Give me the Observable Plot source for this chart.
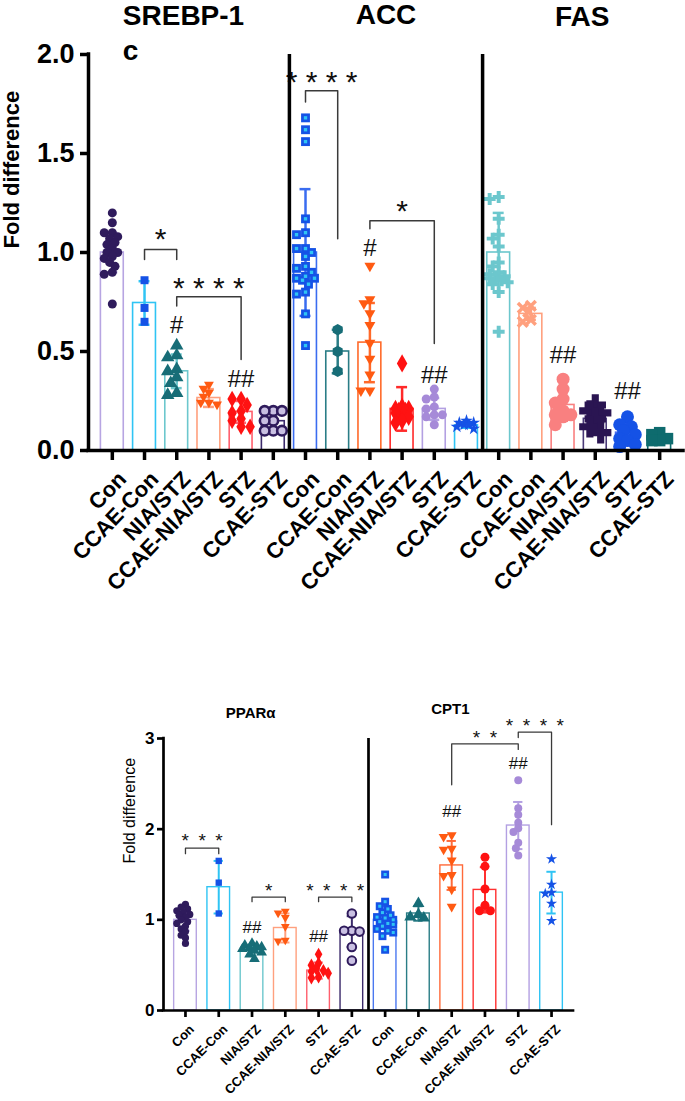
<!DOCTYPE html>
<html>
<head>
<meta charset="utf-8">
<script src="https://cdn.jsdelivr.net/npm/d3@7"></script>
<script src="https://cdn.jsdelivr.net/npm/@observablehq/plot@0.6"></script>
<style>
html,body{margin:0;padding:0;background:#fff;overflow:hidden;}
#top svg,#bot svg{display:block;max-width:none;}
#gap{height:90px;}
</style>
</head>
<body>
<div id="top"></div><div id="gap"></div><div id="bot"></div>
<script>
// ---------------- categories ----------------
const groups = ["Con","CCAE-Con","NIA/STZ","CCAE-NIA/STZ","STZ","CCAE-STZ"];
const topGenes = ["SREBP-1c","ACC","FAS"];
const topTitles = ["SREBP-1\nc","ACC","FAS"];
const botGenes = ["PPARα","CPT1"];
const botTitles = ["PPARα","CPT1"];
const topYTicks = [0, 0.5, 1, 1.5, 2];
const botYTicks = [0, 1, 2, 3];

// ---------------- values ----------------
const srebpMean = [1.00, 0.745, 0.40, 0.265, 0.195, 0.148];
const srebpSD   = [0.10, 0.11, 0.085, 0.045, 0.055, 0.045];
const srebpPts  = [
  [1.20,1.15,1.10,1.10,1.08,1.07,1.05,1.04,1.02,1.00,1.00,0.98,0.97,0.95,0.93,0.90,0.89,0.74],
  [0.86,0.72,0.65],
  [0.53,0.48,0.47,0.41,0.40,0.37,0.34,0.29,0.28],
  [0.33,0.31,0.29,0.27,0.24,0.24,0.23],
  [0.26,0.26,0.23,0.20,0.19,0.16,0.15,0.12,0.12],
  [0.20,0.20,0.20,0.15,0.15,0.10,0.10,0.10]
];
const accMean = [1.00, 0.50, 0.545, 0.21, 0.21, 0.127];
const accSD   = [0.32, 0.11, 0.20, 0.11, 0.055, 0.012];
const accPts  = [
  [1.68,1.62,1.56,1.17,1.10,1.09,1.02,1.02,1.00,0.98,0.93,0.92,0.90,0.88,0.87,0.87,0.86,0.84,0.80,0.79,0.69,0.53],
  [0.61,0.50,0.40],
  [0.93,0.76,0.74,0.69,0.63,0.54,0.46,0.38,0.30,0.30],
  [0.44,0.22,0.21,0.21,0.20,0.20,0.20,0.19,0.17,0.15,0.14],
  [0.31,0.27,0.26,0.22,0.21,0.18,0.18,0.17,0.13],
  [0.15,0.14,0.14,0.13,0.13,0.12,0.11]
];
const fasMean = [1.00, 0.69, 0.23, 0.16, 0.09, 0.07];
const fasSD   = [0.20, 0.03, 0.08, 0.05, 0.05, 0.02];
const fasPts  = [
  [1.28,1.27,1.17,1.09,1.07,1.03,0.95,0.93,0.90,0.89,0.88,0.87,0.87,0.86,0.85,0.84,0.80,0.60],
  [0.73,0.72,0.70,0.66,0.65],
  [0.36,0.31,0.26,0.24,0.20,0.18,0.18,0.17,0.13],
  [0.23,0.20,0.19,0.16,0.12,0.09],
  [0.17,0.13,0.12,0.10,0.08,0.06,0.05,0.03,0.02],
  [0.09,0.08,0.06,0.05,0.05]
];
const pparMean = [1.00, 1.36, 0.66, 0.91, 0.44, 0.87];
const pparSD   = [0.12, 0.29, 0.05, 0.16, 0.09, 0.17];
const pparPts  = [
  [1.17,1.14,1.12,1.10,1.08,1.06,1.05,1.03,1.00,0.98,0.96,0.93,0.90,0.87,0.83,0.80,0.74],
  [1.65,1.41,1.07],
  [0.74,0.72,0.71,0.70,0.69,0.68,0.66,0.64,0.62,0.57],
  [1.09,1.07,1.02,0.92,0.77,0.76],
  [0.62,0.52,0.50,0.46,0.44,0.43,0.41,0.37,0.36],
  [1.07,0.88,0.88,0.87,0.70,0.55]
];
const cptMean = [1.00, 1.07, 1.60, 1.33, 2.04, 1.30];
const cptSD   = [0.15, 0.08, 0.27, 0.25, 0.26, 0.23];
const cptPts  = [
  [1.50,1.20,1.15,1.12,1.08,1.05,1.03,1.02,1.00,0.98,0.96,0.95,0.93,0.90,0.88,0.86,0.82,0.67],
  [1.18,1.06,1.03,1.02],
  [1.93,1.91,1.78,1.77,1.65,1.49,1.48,1.33,1.14],
  [1.69,1.59,1.34,1.16,1.10,1.10],
  [2.54,2.23,2.16,2.07,2.01,1.97,1.85,1.79,1.71],
  [1.67,1.39,1.30,1.29,1.18,0.99]
];

// significance annotations
const topBrackets = [
  {gene:"SREBP-1c", from:"CCAE-Con", to:"NIA/STZ", y:1.015, dropFrom:0.965, dropTo:0.965, label:"*", ly:1.11},
  {gene:"SREBP-1c", from:"NIA/STZ", to:"STZ", y:0.777, dropFrom:0.73, dropTo:0.46, label:"****", ly:0.86},
  {gene:"ACC", from:"Con", to:"CCAE-Con", y:1.817, dropFrom:1.76, dropTo:1.07, label:"****", ly:1.9},
  {gene:"ACC", from:"NIA/STZ", to:"STZ", y:1.16, dropFrom:1.12, dropTo:0.54, label:"*", ly:1.25}
];
const topHashes = [
  {gene:"SREBP-1c", group:"NIA/STZ", y:0.63, label:"#"},
  {gene:"SREBP-1c", group:"STZ", y:0.36, label:"##"},
  {gene:"ACC", group:"NIA/STZ", y:1.02, label:"#"},
  {gene:"ACC", group:"STZ", y:0.38, label:"##"},
  {gene:"FAS", group:"NIA/STZ", y:0.48, label:"##"},
  {gene:"FAS", group:"STZ", y:0.30, label:"##"}
];
const botBrackets = [
  {gene:"PPARα", from:"Con", to:"CCAE-Con", y:1.79, dropFrom:1.73, dropTo:1.73, label:"***", ly:1.93},
  {gene:"PPARα", from:"NIA/STZ", to:"CCAE-NIA/STZ", y:1.25, dropFrom:1.2, dropTo:1.2, label:"*", ly:1.38},
  {gene:"PPARα", from:"STZ", to:"CCAE-STZ", y:1.25, dropFrom:1.2, dropTo:1.2, label:"****", ly:1.38},
  {gene:"CPT1", from:"NIA/STZ", to:"STZ", y:2.94, dropFrom:2.49, dropTo:2.88, label:"**", ly:3.06},
  {gene:"CPT1", from:"STZ", to:"CCAE-STZ", y:3.07, dropFrom:3.01, dropTo:2.05, label:"****", ly:3.2}
];
const botHashes = [
  {gene:"PPARα", group:"NIA/STZ", y:0.92, label:"##"},
  {gene:"PPARα", group:"STZ", y:0.82, label:"##"},
  {gene:"CPT1", group:"NIA/STZ", y:2.19, label:"##"},
  {gene:"CPT1", group:"STZ", y:2.72, label:"##"}
];

// ---------------- styles ----------------
const C = {
  darkPurple:"#2f1b5c", lavender:"#b7a5e2", blue:"#1552e6", cyan:"#2fc4f4",
  teal:"#176d77", lightTeal:"#6cc7cd", orange:"#ff5a12", salmon:"#ffa07e",
  red:"#ff1212", pinkRed:"#ff5f6d", midPurple:"#a68ad8", coral:"#f98080", darkTeal:"#0e6b6e"
};
const triDown = { draw(ctx, size) { const s = Math.sqrt(size); const w = s*0.62, t = s*0.42, b = s*0.66;
  ctx.moveTo(-w,-t); ctx.lineTo(w,-t); ctx.lineTo(0,b); ctx.closePath(); } };

const srebpBar = [C.lavender, C.cyan, C.lightTeal, C.salmon, C.pinkRed, "#3b2a6b"];
const accBar   = ["#3a6cf0", "#2a7d86", "#ff6a2a", "#ff2a2a", "#b3a0e2", C.cyan];
const fasBar   = [C.lightTeal, C.salmon, C.coral, "#4a3a78", "#4a6ef0", C.darkTeal];
const cptBar   = ["#4a78f0", "#2a7d86", "#ff6a3a", "#ff3030", "#b3a0e2", C.cyan];

const srebpDot = [
  {symbol:"circle", r:4.5, fill:C.darkPurple},
  {symbol:"square", r:4.5, fill:C.blue},
  {symbol:"triangle", r:5, fill:C.teal},
  {symbol:triDown, r:4.5, fill:C.orange},
  {symbol:"diamond", r:5, fill:C.red},
  {symbol:"circle", r:4.8, fill:"#c9c0e2", stroke:C.darkPurple, sw:2.6}
];
const accDot = [
  {symbol:"square", r:5, fill:C.blue, inner:C.cyan},
  {symbol:"hexagon", r:5, fill:C.teal},
  {symbol:triDown, r:5, fill:C.orange},
  {symbol:"diamond", r:5.5, fill:C.red},
  {symbol:"circle", r:4.5, fill:C.midPurple},
  {symbol:"star", r:4, fill:C.blue}
];
const fasDot = [
  {symbol:"cross", r:5, fill:C.lightTeal},
  {symbol:"times", r:4.5, fill:"none", stroke:C.salmon, sw:3.5},
  {symbol:"circle", r:6.5, fill:C.coral},
  {symbol:"cross", r:9, fill:"#2a1552"},
  {symbol:"circle", r:6.5, fill:C.blue},
  {symbol:"square", r:6.5, fill:C.darkTeal}
];
const pparDot = [
  {symbol:"circle", r:3.6, fill:C.darkPurple},
  {symbol:"square", r:3.6, fill:C.blue},
  {symbol:"triangle", r:4, fill:C.teal},
  {symbol:triDown, r:4, fill:C.orange},
  {symbol:"diamond", r:4, fill:C.red},
  {symbol:"circle", r:4.3, fill:"#c9c0e2", stroke:C.darkPurple, sw:2}
];
const cptDot = [
  {symbol:"square", r:4.5, fill:C.blue, inner:C.cyan},
  {symbol:"triangle", r:4.5, fill:C.teal},
  {symbol:triDown, r:4.5, fill:C.orange},
  {symbol:"circle", r:4.5, fill:C.red},
  {symbol:"circle", r:4, fill:C.midPurple},
  {symbol:"star", r:3.5, fill:C.blue}
];

// ---------------- helpers ----------------
const W = 685;
const FONT = "'Liberation Sans', Arial, Helvetica, sans-serif";

// deterministic column-scatter layout (spreads overlapping points sideways, within the bar)
function swarm(values, i, r, pxY, pxX, halfW) {
  const order = values.map((v, k) => k).sort((a, b) => values[b] - values[a]);
  const placed = [];
  const minD = 2 * r * 0.68, step = r * 0.6;
  const lim = Math.max(halfW - r * 0.3, r);
  for (const k of order) {
    const py = values[k] * pxY;
    let best = 0, bestD = -1;
    for (let j = 0; j < 60; j++) {
      const o = j === 0 ? 0 : (j % 2 ? -1 : 1) * Math.ceil(j / 2) * step;
      if (Math.abs(o) > lim) break;
      const d = placed.length ? Math.min(...placed.map(p => Math.hypot(p.px - o, p.py - py))) : Infinity;
      if (d >= minD) { best = o; break; }
      if (d > bestD) { bestD = d; best = o; }
    }
    placed.push({px: best, py, v: values[k]});
  }
  return placed.map(p => ({x: i + p.px / pxX, y: p.v}));
}

function panel(cfg) {
  const n = cfg.genes.length * 6;
  const x0 = -cfg.pad, x1 = n - 1 + cfg.pad;
  const pxX = (W - cfg.ml - cfg.mr) / (x1 - x0);
  const pxY = (cfg.height - cfg.mt - cfg.mb) / cfg.yMax;
  const idx = (gene, g) => cfg.genes.indexOf(gene) * 6 + groups.indexOf(g);
  const spaced = s => s.split("").join(cfg.starSep);
  const bars = [], errs = [], caps = [], dots = [];
  cfg.sets.forEach((S, gi) => {
    S.mean.forEach((m, k) => {
      const i = gi * 6 + k;
      bars.push({i, m, c: S.bar[k]});
      errs.push({i, lo: m - S.sd[k], hi: m + S.sd[k], c: S.bar[k]});
      caps.push({i, v: m - S.sd[k], c: S.bar[k]}, {i, v: m + S.sd[k], c: S.bar[k]});
      const st = S.dot[k];
      const pts = swarm(S.pts[k], i, st.r, pxY, pxX, cfg.bw / 2 * pxX);
      dots.push(Plot.dot(pts, {x: "x", y: "y", symbol: st.symbol, r: st.r,
        fill: st.fill || "none", stroke: st.stroke || "none", strokeWidth: st.sw || 0}));
      if (st.inner) dots.push(Plot.dot(pts, {x: "x", y: "y", symbol: "square", r: st.r * 0.38, fill: st.inner}));
    });
  });
  const bl = [];
  cfg.brackets.forEach((b, k) => {
    const a = idx(b.gene, b.from), c = idx(b.gene, b.to);
    bl.push({x: a, y: b.dropFrom, z: k}, {x: a, y: b.y, z: k}, {x: c, y: b.y, z: k}, {x: c, y: b.dropTo, z: k});
  });
  const seps = cfg.genes.slice(1).map((g, k) => (k + 1) * 6 - 0.5);
  const marks = [
    Plot.rect(bars, {x1: d => d.i - cfg.bw / 2, x2: d => d.i + cfg.bw / 2, y1: () => 0, y2: "m",
      fill: "white", stroke: "c", strokeWidth: cfg.barSW}),
    Plot.ruleX(errs, {x: "i", y1: "lo", y2: "hi", stroke: "c", strokeWidth: cfg.errSW}),
    Plot.ruleY(caps, {y: "v", x1: d => d.i - cfg.cap, x2: d => d.i + cfg.cap, stroke: "c", strokeWidth: cfg.errSW}),
    ...dots,
    Plot.line(bl, {x: "x", y: "y", z: "z", stroke: "#3a3a3a", strokeWidth: cfg.brSW}),
    Plot.text(cfg.brackets, {x: b => (idx(b.gene, b.from) + idx(b.gene, b.to)) / 2, y: "ly", text: b => spaced(b.label),
      fontSize: cfg.starFont, fontWeight: "normal", dy: cfg.starFont * 0.28, fill: "#111"}),
    Plot.text(cfg.hashes, {x: h => idx(h.gene, h.group), y: "y", text: "label",
      fontSize: cfg.hashFont, fontWeight: "normal", fill: "#111"}),
    Plot.ruleX(seps, {y1: () => 0, y2: () => cfg.yMax, strokeWidth: cfg.sepSW, stroke: "black"}),
    Plot.ruleX([x0], {y1: () => 0, y2: () => cfg.yMax, strokeWidth: cfg.axSW, stroke: "black", strokeLinecap: "square"}),
    Plot.ruleY([0], {x1: () => x0, x2: () => x1, strokeWidth: cfg.axSW, stroke: "black", strokeLinecap: "square"}),
    Plot.axisY({ticks: cfg.yTicks, tickFormat: cfg.yFmt, fontSize: cfg.yFont, tickSize: cfg.tickY,
      tickPadding: cfg.padY, strokeWidth: cfg.axSW, label: null}),
    Plot.axisX({ticks: d3.range(n), tickFormat: () => "", tickSize: cfg.tickX, strokeWidth: cfg.axSW, label: null}),
    Plot.text(d3.range(n), {x: d => d, y: () => 0, text: i => groups[i % 6], rotate: cfg.xRot, textAnchor: "end",
      lineAnchor: "top", dy: cfg.tickX + cfg.padX, dx: cfg.xDx, fontSize: cfg.xFont}),
    Plot.text(["Fold difference"], {text: d => d, frameAnchor: "left", rotate: -90, dx: cfg.ylabDx, dy: cfg.ylabDy,
      fontSize: cfg.ylabFont, fontWeight: cfg.ylabWeight})
  ];
  cfg.titles.forEach((t, gi) => {
    const L = cfg.titleLayout[gi];
    marks.push(Plot.text([t], {text: d => d, x: () => gi * 6 + 2.5, y: () => cfg.yMax, dx: L.dx, dy: L.dy,
      textAnchor: L.anchor, lineAnchor: "bottom", lineHeight: L.lh || 1, fontSize: cfg.titleFont}));
  });
  return Plot.plot({
    width: W, height: cfg.height,
    marginTop: cfg.mt, marginBottom: cfg.mb, marginLeft: cfg.ml, marginRight: cfg.mr,
    x: {type: "linear", domain: [x0, x1], label: null},
    y: {domain: [0, cfg.yMax], label: null},
    color: {type: "identity"},
    style: {fontFamily: FONT, fontWeight: "bold", color: "black", background: "white", overflow: "visible", maxWidth: "none"},
    marks
  });
}

const topChart = panel({
  genes: topGenes, titles: topTitles,
  sets: [
    {mean: srebpMean, sd: srebpSD, pts: srebpPts, bar: srebpBar, dot: srebpDot},
    {mean: accMean, sd: accSD, pts: accPts, bar: accBar, dot: accDot},
    {mean: fasMean, sd: fasSD, pts: fasPts, bar: fasBar, dot: fasDot}
  ],
  brackets: topBrackets, hashes: topHashes,
  height: 590, mt: 54, mb: 140, ml: 88, mr: 2, pad: 0.74, bw: 0.71, yMax: 2,
  yTicks: topYTicks, yFmt: d3.format(".1f"), yFont: 27, xFont: 22, xRot: -46, xDx: 4, tickY: 8, padY: 6, tickX: 10, padX: 9,
  axSW: 3.5, sepSW: 3.5, barSW: 1.6, errSW: 2.5, cap: 0.17, brSW: 1.5, starFont: 30, starSep: "\u00a0", hashFont: 24,
  ylabDx: -77, ylabDy: -4, ylabFont: 22, ylabWeight: "bold", titleFont: 28,
  titleLayout: [{dx: -70, dy: 5, anchor: "start", lh: 1.25}, {dx: 0, dy: -31, anchor: "middle"}, {dx: 3, dy: -29, anchor: "middle"}]
});

const botChart = panel({
  genes: botGenes, titles: botTitles,
  sets: [
    {mean: pparMean, sd: pparSD, pts: pparPts, bar: srebpBar, dot: pparDot},
    {mean: cptMean, sd: cptSD, pts: cptPts, bar: cptBar, dot: cptDot}
  ],
  brackets: botBrackets, hashes: botHashes,
  height: 421, mt: 58, mb: 91, ml: 163, mr: 112, pad: 0.66, bw: 0.68, yMax: 3,
  yTicks: botYTicks, yFmt: d => String(d), yFont: 17, xFont: 13, xRot: -45, xDx: 3, tickY: 6, padY: 3, tickX: 7, padX: 6,
  axSW: 2.7, sepSW: 2.7, barSW: 1.4, errSW: 2, cap: 0.14, brSW: 1.3, starFont: 19, starSep: "\u2002", hashFont: 17,
  ylabDx: -34, ylabDy: -11, ylabFont: 16, ylabWeight: "normal", titleFont: 15,
  titleLayout: [{dx: -18, dy: -21, anchor: "middle"}, {dx: -18, dy: -25, anchor: "middle"}]
});

document.getElementById("top").appendChild(topChart);
document.getElementById("bot").appendChild(botChart);
</script>
</body>
</html>
